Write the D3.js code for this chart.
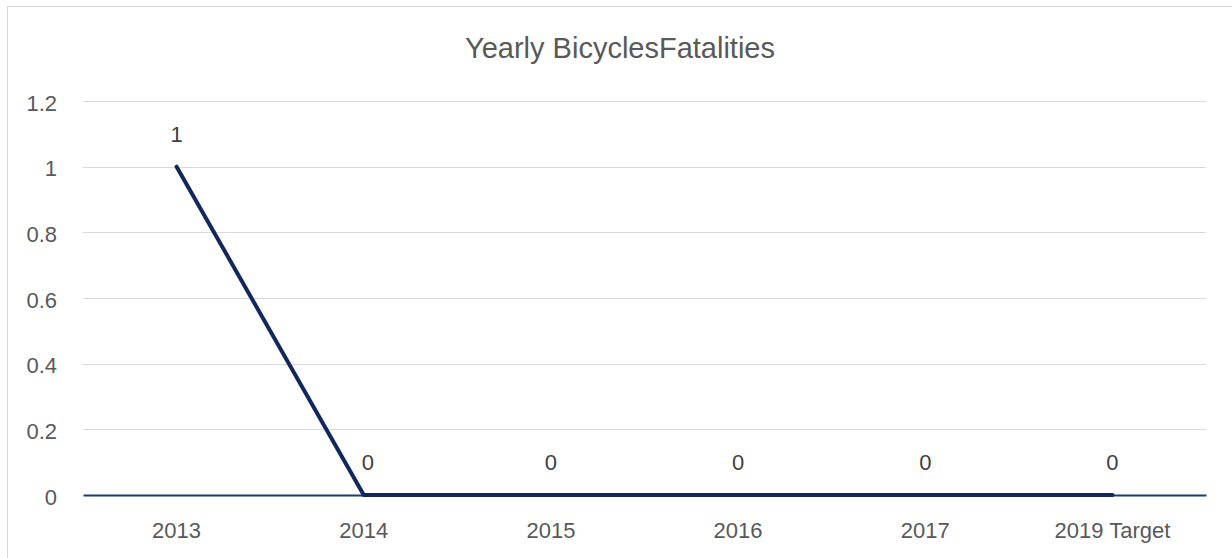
<!DOCTYPE html>
<html><head><meta charset="utf-8">
<script src="https://cdn.jsdelivr.net/npm/d3@7"></script>
<style>
html,body{margin:0;padding:0;background:#fff;}
text{font-family:"Liberation Sans",Arial,sans-serif;}
</style></head>
<body>
<svg id="chart" width="1232" height="558"></svg>
<script>
const categories = ["2013","2014","2015","2016","2017","2019 Target"];
const fatalities = [1,0,0,0,0,0];
const yTicks = [0,0.2,0.4,0.6,0.8,1,1.2];
const yTickLabels = ["0","0.2","0.4","0.6","0.8","1","1.2"];
const title = "Yearly BicyclesFatalities";

const svg = d3.select("#chart");
const m = {left:83, right:1206, top:101, bottom:495};

svg.append("rect").attr("x",7.5).attr("y",6.5).attr("width",1240).attr("height",570)
  .attr("fill","#fff").attr("stroke","#d9d9d9").attr("stroke-width",1);

const x = d3.scaleBand().domain(categories).range([m.left,m.right]);
const y = d3.scaleLinear().domain([0,1.2]).range([m.bottom,m.top]);

svg.append("text").attr("x",620).attr("y",58)
  .attr("text-anchor","middle").attr("font-size",29).attr("fill","#595959").text(title);

// gridlines
svg.append("g").selectAll("line").data(yTicks.filter(d=>d>0)).join("line")
  .attr("x1",m.left).attr("x2",m.right)
  .attr("y1",d=>Math.round(y(d))+0.5).attr("y2",d=>Math.round(y(d))+0.5)
  .attr("stroke","#d9d9d9").attr("stroke-width",1);

// y axis labels
const yAxis = d3.axisLeft(y).tickValues(yTicks).tickFormat((d,i)=>yTickLabels[i]).tickSize(0).tickPadding(0);
const gy = svg.append("g").attr("transform",`translate(57,2)`).call(yAxis);
gy.select(".domain").remove();
gy.selectAll("text").attr("font-size",22).attr("fill","#595959").attr("font-family","Liberation Sans, Arial, sans-serif");

// x axis
const xAxis = d3.axisBottom(x).tickSize(0).tickPadding(0);
const gx = svg.append("g").attr("transform",`translate(0,${m.bottom})`).call(xAxis);
gx.select(".domain").attr("stroke","#1f3a78").attr("stroke-width",2);
gx.selectAll("text").attr("font-size",22).attr("fill","#595959").attr("dy",null).attr("y",43)
  .attr("font-family","Liberation Sans, Arial, sans-serif");

// line
const line = d3.line().x((d,i)=>x(categories[i])+x.bandwidth()/2).y(d=>y(d));
svg.append("path").datum(fatalities).attr("d",line)
  .attr("fill","none").attr("stroke","#12275e").attr("stroke-width",4)
  .attr("stroke-linejoin","round").attr("stroke-linecap","round");

// data labels
svg.append("g").selectAll("text").data(fatalities).join("text")
  .attr("x",(d,i)=>x(categories[i])+x.bandwidth()/2 + (i===1?4:0))
  .attr("y",d=>y(d)-25)
  .attr("text-anchor","middle").attr("font-size",22).attr("fill","#404040")
  .text(d=>d);
</script>
</body></html>
